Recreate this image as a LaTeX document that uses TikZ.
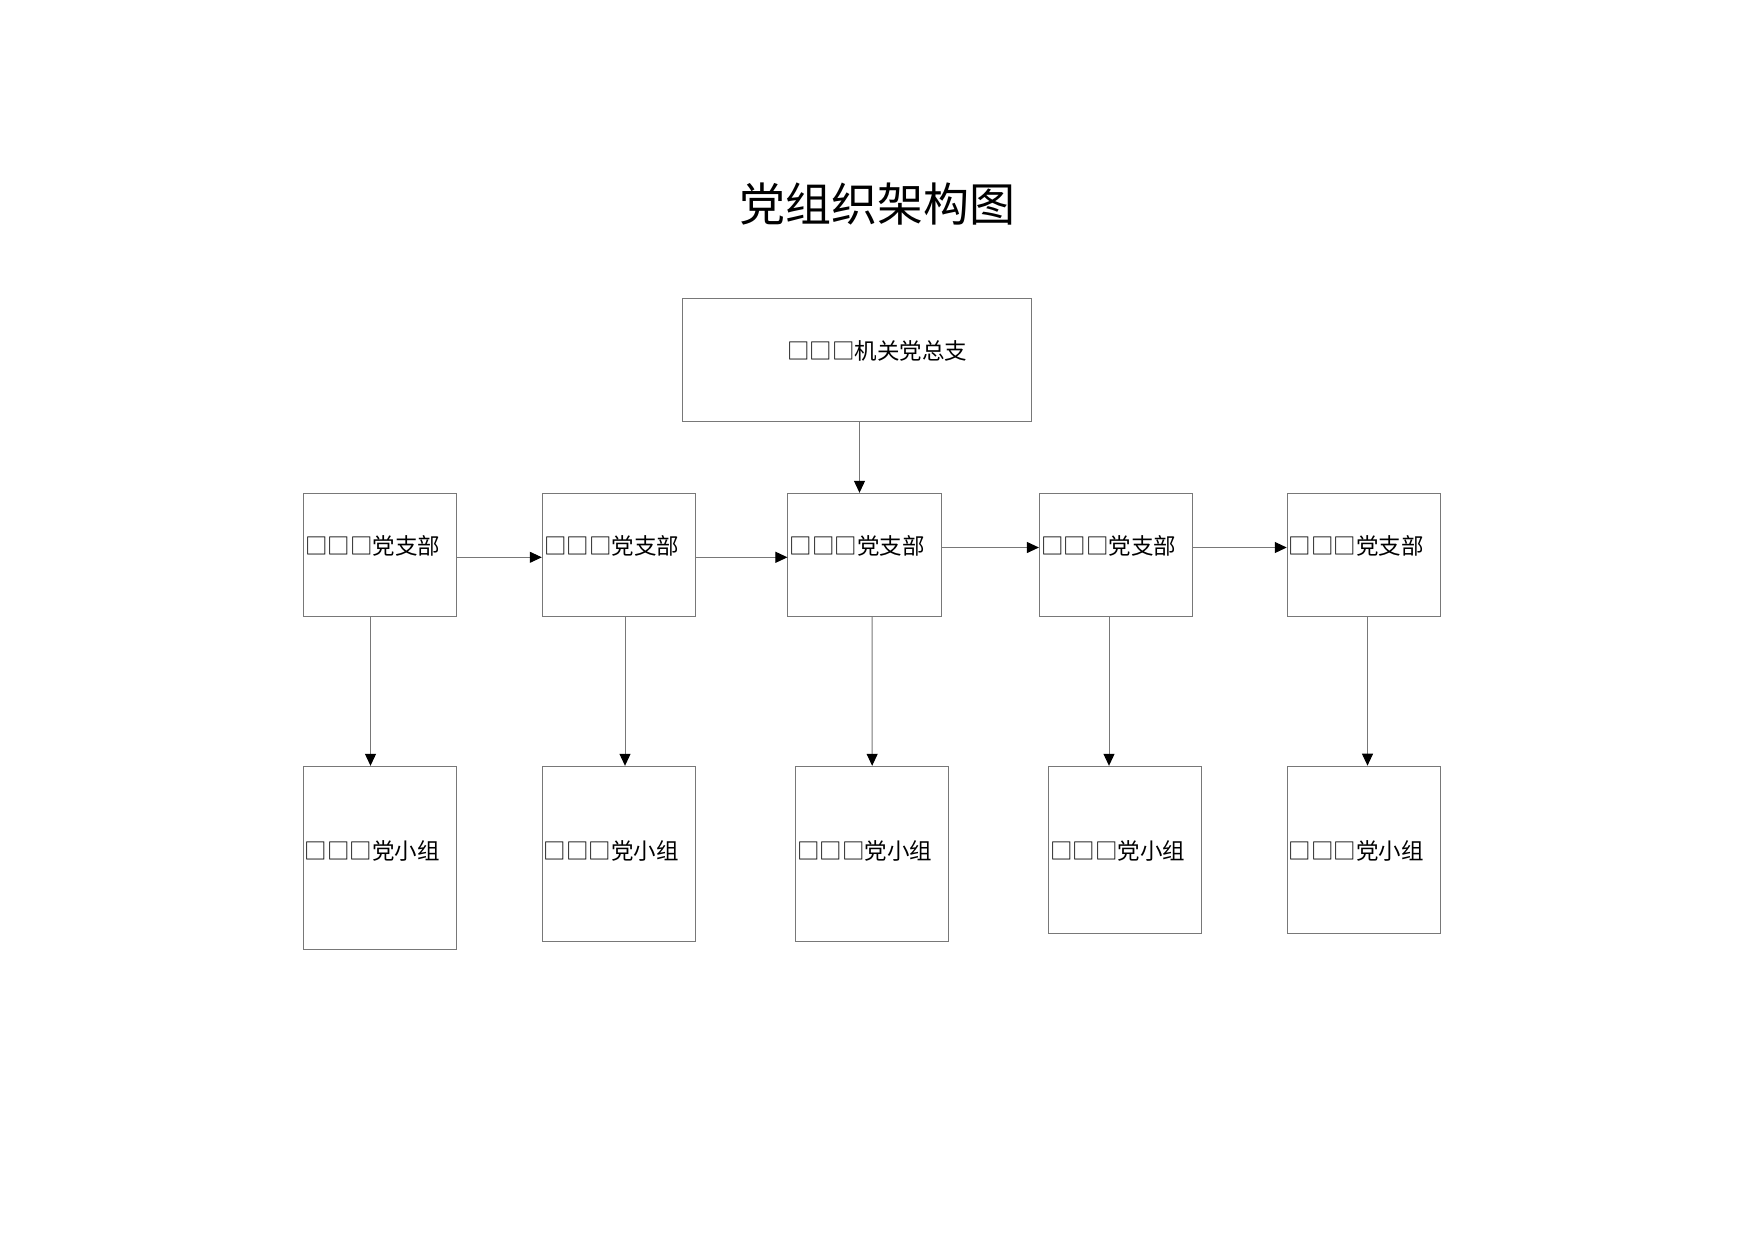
\documentclass[tikz,border=0pt]{standalone}
\usepackage{fontspec}
\newfontfamily\cjk{Noto Sans CJK SC}
\usetikzlibrary{arrows.meta}
\definecolor{edge}{HTML}{787878}
\tikzset{
  box/.style={draw=edge, line width=1pt, inner sep=0pt, minimum width=153.4pt},
  lbl/.style={anchor=west, inner sep=0pt, font=\cjk\fontsize{22.5pt}{24pt}\selectfont, text=black},
  arr/.style={draw=edge, line width=1pt, -{Triangle[length=12pt,width=11pt,color=black]}},
}
\begin{document}
\begin{tikzpicture}[x=1pt,y=-1pt]
\useasboundingbox[fill=white] (0,0) rectangle (1754,1240);
% title
\node[inner sep=0pt, font=\cjk\fontsize{46pt}{50pt}\selectfont] (title) at (877,204) {党组织架构图};
% top box
\node[box, minimum width=349pt, minimum height=123pt] (top) at (857.2,359.8) {};
\node[lbl] (ttop) at (787,351) {□□□机关党总支};
% branch row
\node[box, minimum height=123pt] (b1) at (380,554.8) {};
\node[box, minimum height=123pt] (b2) at (619,554.8) {};
\node[box, minimum height=123pt] (b3) at (864.65,554.8) {};
\node[box, minimum height=123pt] (b4) at (1116.1,554.8) {};
\node[box, minimum height=123pt] (b5) at (1363.95,554.8) {};
\node[lbl] (tb1) at ([xshift=2pt,yshift=8.8pt]b1.west) {□□□党支部};
\node[lbl] (tb2) at ([xshift=2pt,yshift=8.8pt]b2.west) {□□□党支部};
\node[lbl] (tb3) at ([xshift=2pt,yshift=8.8pt]b3.west) {□□□党支部};
\node[lbl] (tb4) at ([xshift=2pt,yshift=8.8pt]b4.west) {□□□党支部};
\node[lbl] (tb5) at ([xshift=2pt,yshift=8.8pt]b5.west) {□□□党支部};
% group row
\node[box, minimum height=183pt] (s1) at (379.85,857.8) {};
\node[box, minimum height=175pt] (s2) at (618.8,853.8) {};
\node[box, minimum height=175pt] (s3) at (872.15,853.8) {};
\node[box, minimum height=167pt] (s4) at (1125,849.8) {};
\node[box, minimum height=167pt] (s5) at (1363.95,849.65) {};
\node[lbl] (ts1) at ([xshift=2pt]s1.west |- 0,851) {□□□党小组};
\node[lbl] (ts2) at ([xshift=2pt]s2.west |- 0,851) {□□□党小组};
\node[lbl] (ts3) at ([xshift=2pt]s3.west |- 0,851) {□□□党小组};
\node[lbl] (ts4) at ([xshift=2pt]s4.west |- 0,851) {□□□党小组};
\node[lbl] (ts5) at ([xshift=2pt]s5.west |- 0,851) {□□□党小组};
% connectors
\draw[arr] ([xshift=2.3pt]top.south) -- ([xshift=-5.15pt]b3.north);
\draw[arr] ([yshift=-2.5pt]b1.east) -- ([yshift=-2.5pt]b2.west);
\draw[arr] ([yshift=-2.5pt]b2.east) -- ([yshift=-2.5pt]b3.west);
\draw[arr] ([yshift=7.3pt]b3.east) -- ([yshift=7.3pt]b4.west);
\draw[arr] ([yshift=7.3pt]b4.east) -- ([yshift=7.3pt]b5.west);
\draw[arr] ([xshift=-9.5pt]b1.south) -- ([xshift=-9.35pt]s1.north);
\draw[arr] ([xshift=6pt]b2.south) -- ([xshift=6.2pt]s2.north);
\draw[arr] ([xshift=7.55pt]b3.south) -- ([xshift=0pt]s3.north);
\draw[arr] ([xshift=-7.1pt]b4.south) -- ([xshift=-16pt]s4.north);
\draw[arr] ([xshift=3.55pt]b5.south) -- ([xshift=3.55pt]s5.north);
\end{tikzpicture}
\end{document}
